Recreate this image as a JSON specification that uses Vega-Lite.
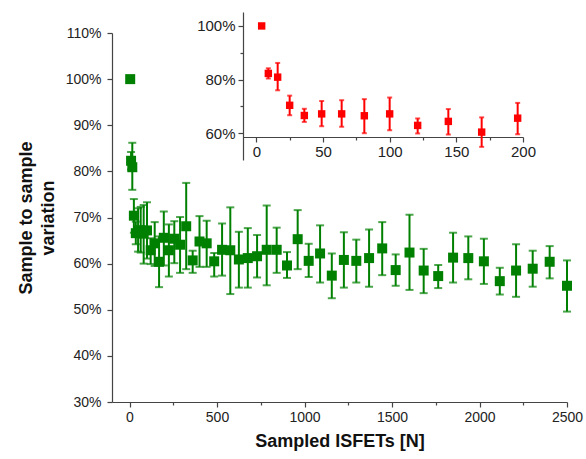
{
  "$schema": "https://vega.github.io/schema/vega-lite/v6.json",
  "width": 455,
  "height": 369,
  "autosize": {"type": "none"},
  "padding": {"left": 112, "top": 33, "right": 19, "bottom": 57},
  "background": "white",
  "config": {
    "view": {"stroke": null},
    "font": "Liberation Sans",
    "axis": {"grid": false, "labelFlush": false, "domainColor": "#444", "tickColor": "#444", "labelColor": "#222", "titleColor": "#111", "labelFont": "Liberation Sans", "titleFont": "Liberation Sans", "domainWidth": 1.2, "tickWidth": 1.2}
  },
  "datasets": {
    "pts": [
      {"N": 4, "v": 100, "lo": 100, "hi": 100},
      {"N": 9, "v": 82.3, "lo": 80.4, "hi": 84.2},
      {"N": 16, "v": 80.9, "lo": 76.0, "hi": 86.2},
      {"N": 25, "v": 70.4, "lo": 66.7, "hi": 74.0},
      {"N": 36, "v": 66.6, "lo": 64.2, "hi": 69.1},
      {"N": 49, "v": 67.2, "lo": 62.6, "hi": 72.0},
      {"N": 64, "v": 67.2, "lo": 62.4, "hi": 72.3},
      {"N": 81, "v": 66.5, "lo": 60.0, "hi": 72.7},
      {"N": 100, "v": 67.2, "lo": 61.1, "hi": 73.3},
      {"N": 121, "v": 62.9, "lo": 59.9, "hi": 65.5},
      {"N": 144, "v": 64.4, "lo": 59.5, "hi": 69.0},
      {"N": 169, "v": 60.4, "lo": 54.9, "hi": 65.9},
      {"N": 196, "v": 65.6, "lo": 59.6, "hi": 71.3},
      {"N": 225, "v": 62.9, "lo": 57.2, "hi": 68.5},
      {"N": 256, "v": 65.4, "lo": 60.1, "hi": 69.2},
      {"N": 289, "v": 64.1, "lo": 58.0, "hi": 70.1},
      {"N": 324, "v": 68.1, "lo": 58.8, "hi": 77.5},
      {"N": 361, "v": 60.7, "lo": 58.0, "hi": 62.8},
      {"N": 400, "v": 64.8, "lo": 59.3, "hi": 70.3},
      {"N": 441, "v": 64.4, "lo": 59.3, "hi": 69.3},
      {"N": 484, "v": 60.5, "lo": 57.2, "hi": 62.3},
      {"N": 529, "v": 63.0, "lo": 57.4, "hi": 68.7},
      {"N": 576, "v": 62.9, "lo": 53.4, "hi": 72.2},
      {"N": 625, "v": 60.9, "lo": 54.8, "hi": 66.9},
      {"N": 676, "v": 61.2, "lo": 54.8, "hi": 67.7},
      {"N": 729, "v": 61.6, "lo": 57.0, "hi": 66.2},
      {"N": 784, "v": 63.0, "lo": 55.3, "hi": 72.6},
      {"N": 841, "v": 63.0, "lo": 58.0, "hi": 67.8},
      {"N": 900, "v": 59.6, "lo": 56.9, "hi": 62.5},
      {"N": 961, "v": 65.3, "lo": 58.8, "hi": 71.6},
      {"N": 1024, "v": 60.6, "lo": 57.1, "hi": 64.3},
      {"N": 1089, "v": 62.2, "lo": 55.9, "hi": 68.3},
      {"N": 1156, "v": 57.4, "lo": 52.5, "hi": 62.2},
      {"N": 1225, "v": 60.8, "lo": 54.8, "hi": 66.8},
      {"N": 1296, "v": 60.6, "lo": 55.9, "hi": 65.2},
      {"N": 1369, "v": 61.2, "lo": 55.0, "hi": 67.4},
      {"N": 1444, "v": 63.3, "lo": 57.5, "hi": 69.0},
      {"N": 1521, "v": 58.6, "lo": 55.2, "hi": 62.0},
      {"N": 1600, "v": 62.4, "lo": 54.3, "hi": 70.6},
      {"N": 1681, "v": 58.5, "lo": 53.6, "hi": 63.2},
      {"N": 1764, "v": 57.3, "lo": 54.7, "hi": 59.7},
      {"N": 1849, "v": 61.3, "lo": 55.9, "hi": 66.7},
      {"N": 1936, "v": 61.2, "lo": 56.6, "hi": 65.9},
      {"N": 2025, "v": 60.5, "lo": 55.6, "hi": 65.4},
      {"N": 2116, "v": 56.2, "lo": 53.3, "hi": 59.1},
      {"N": 2209, "v": 58.5, "lo": 52.8, "hi": 64.2},
      {"N": 2304, "v": 58.9, "lo": 55.0, "hi": 62.8},
      {"N": 2401, "v": 60.4, "lo": 56.8, "hi": 63.8},
      {"N": 2500, "v": 55.2, "lo": 49.6, "hi": 60.7}
    ]
  },
  "data": {"name": "pts"},
  "layer": [
    {
      "layer": [
        {
          "mark": {"type": "errorbar", "color": "#008000", "thickness": 2, "ticks": {"size": 8, "thickness": 2, "color": "#008000"}},
          "encoding": {
            "x": {"field": "N", "type": "quantitative"},
            "y": {"field": "lo", "type": "quantitative", "scale": {"domain": [30, 110], "nice": false, "zero": false},
              "axis": {"orient": "left", "values": [30, 35, 40, 45, 50, 55, 60, 65, 70, 75, 80, 85, 90, 95, 100, 105, 110], "labelExpr": "datum.value % 10 === 0 ? datum.value + '%' : ''", "tickSize": {"expr": "datum.value % 10 === 0 ? 5 : 3"}, "labelFontSize": 14, "labelPadding": 6, "title": ["Sample to sample", "variation"], "titleFontSize": 18, "titleFontWeight": "bold", "titleLineHeight": 22, "titlePadding": 8}},
            "y2": {"field": "hi"}
          }
        },
        {
          "mark": {"type": "square", "color": "#008000", "size": 100, "opacity": 1, "filled": true},
          "encoding": {
            "x": {"field": "N", "type": "quantitative", "scale": {"domain": [-100, 2500], "nice": false, "zero": false},
              "axis": {"orient": "bottom", "values": [0, 250, 500, 750, 1000, 1250, 1500, 1750, 2000, 2250, 2500], "labelExpr": "datum.value % 500 === 0 ? datum.label : ''", "tickSize": {"expr": "datum.value % 500 === 0 ? 5 : 3"}, "labelFontSize": 14, "labelPadding": 3, "title": "Sampled ISFETs [N]", "titleFontSize": 18, "titleFontWeight": "bold", "titlePadding": 8, "format": "d"}},
            "y": {"field": "v", "type": "quantitative"}
          }
        }
      ]
    },
    {
      "transform": [{"filter": "datum.N <= 200"}],
      "layer": [
        {
          "mark": {"type": "errorbar", "color": "#ff0000", "thickness": 2, "ticks": {"size": 5, "thickness": 2, "color": "#ff0000"}},
          "encoding": {
            "x": {"field": "N", "type": "quantitative"},
            "y": {"field": "lo", "type": "quantitative", "scale": {"domain": [50, 105.2], "range": [127, -21], "nice": false, "zero": false},
              "axis": {"orient": "left", "offset": -131, "values": [60, 70, 80, 90, 100], "labelExpr": "datum.value % 20 === 0 ? datum.value + '%' : ''", "tickSize": {"expr": "datum.value % 20 === 0 ? 5 : 3"}, "labelFontSize": 15, "labelPadding": 3, "title": null}},
            "y2": {"field": "hi"}
          }
        },
        {
          "mark": {"type": "square", "color": "#ff0000", "size": 55, "opacity": 1, "filled": true},
          "encoding": {
            "x": {"field": "N", "type": "quantitative", "scale": {"domain": [-10, 200], "range": [131, 411], "nice": false, "zero": false},
              "axis": {"orient": "bottom", "offset": -265, "values": [0, 25, 50, 75, 100, 125, 150, 175, 200], "labelExpr": "datum.value % 50 === 0 ? datum.label : ''", "tickSize": {"expr": "datum.value % 50 === 0 ? 5 : 3"}, "labelFontSize": 15, "labelPadding": 2, "title": null}},
            "y": {"field": "v", "type": "quantitative"}
          }
        }
      ]
    }
  ],
  "resolve": {"scale": {"x": "independent", "y": "independent"}, "axis": {"x": "independent", "y": "independent"}}
}
